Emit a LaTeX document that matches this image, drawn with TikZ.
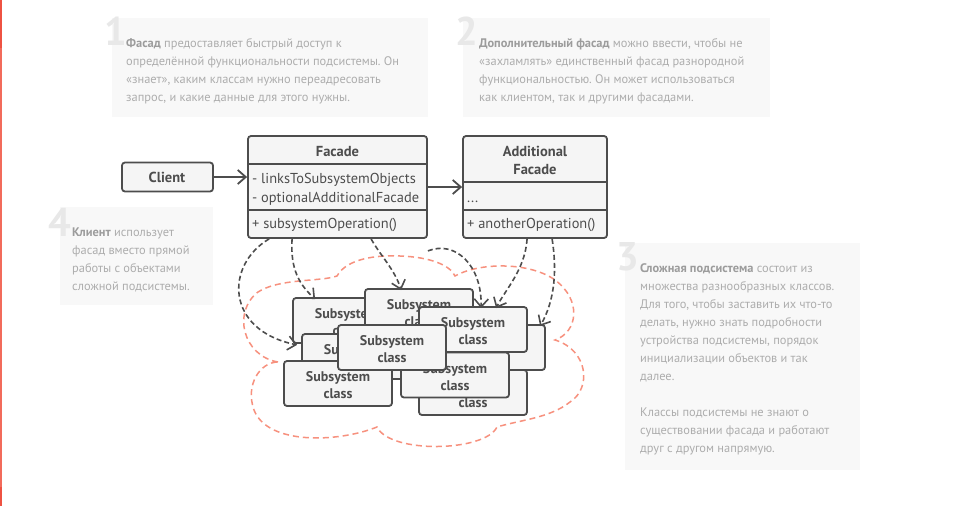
\documentclass[tikz,border=0pt]{standalone}
\usepackage{fontspec}
\setmainfont{PT Sans}
\usetikzlibrary{arrows.meta}
\frenchspacing
\definecolor{ink}{HTML}{4D4D4D}
\definecolor{boxfill}{HTML}{F5F5F5}
\definecolor{notebg}{HTML}{F8F8F8}
\definecolor{notetxt}{HTML}{ADADAD}
\definecolor{notebold}{HTML}{9C9C9C}
\definecolor{digitcol}{HTML}{E8E8E8}
\definecolor{cloudcol}{HTML}{F7917E}
\definecolor{edgecol}{HTML}{F26B5B}
\definecolor{edgedark}{HTML}{EE5242}
\tikzset{
  umlbox/.style={draw=ink, line width=1.8pt, fill=boxfill, rounded corners=3pt, inner sep=0pt},
  subbox/.style={umlbox, minimum width=108pt, minimum height=45pt, align=center, text=ink,
     font=\fontsize{14}{17}\selectfont\bfseries},
  umltext/.style={anchor=base west, inner sep=0pt, text=ink, font=\fontsize{14.4}{17}\selectfont},
  umltitle/.style={anchor=base, inner sep=0pt, text=ink, font=\fontsize{14.5}{18}\selectfont\bfseries},
  notebox/.style={fill=notebg, inner sep=0pt, anchor=north west},
  notetext/.style={anchor=base west, inner sep=0pt, align=left, text=notetxt,
     font=\fontsize{12.4}{18}\selectfont},
  digitnum/.style={anchor=base west, inner sep=0pt, text=digitcol, font=\fontsize{40}{40}\selectfont\bfseries},
  dep/.style={draw=ink, line width=1.6pt, dash pattern=on 5pt off 3pt,
     -{Straight Barb[length=8pt,width=14pt]}},
  assoc/.style={draw=ink, line width=1.8pt, -{Straight Barb[length=8pt,width=14pt]}},
  divider/.style={draw=ink, line width=1.8pt},
}
\newcommand{\nb}[1]{\textcolor{notebold}{\bfseries #1}}
\newcommand{\subtxt}{\rule{0pt}{14pt}Subsystem\\class}
\begin{document}
\begin{tikzpicture}[x=1pt,y=-1pt]
\useasboundingbox (0,0) rectangle (960,506);
\fill[white] (0,0) rectangle (960,506);
% left edge
\fill[edgecol] (0,0) rectangle (2,506);
\fill[edgedark] (0,0) rectangle (2,48);
\fill[edgedark] (0,487) rectangle (2,506);

% notes (base anchor = last line baseline)
\node[notebox, minimum width=316pt, minimum height=99pt] (n1) at (112,18) {};
\node[digitnum] (d1) at (104,45) {1};
\node[notetext] (t1) at (126,101.5) {\nb{Фасад} предоставляет быстрый доступ к\\
определённой функциональности подсистемы. Он\\
«знает», каким классам нужно переадресовать\\
запрос, и какие данные для этого нужны.};

\node[notebox, minimum width=307pt, minimum height=99pt] (n2) at (463,18) {};
\node[digitnum] (d2) at (455,45) {2};
\node[notetext] (t2) at (479,101.5) {\nb{Дополнительный фасад} можно ввести, чтобы не\\
«захламлять» единственный фасад разнородной\\
функциональностью. Он может использоваться\\
как клиентом, так и другими фасадами.};

\node[notebox, minimum width=153pt, minimum height=98pt] (n4) at (60,207) {};
\node[digitnum] (d4) at (48,236) {4};
\node[notetext] (t4) at (72,290.5) {\nb{Клиент} использует\\
фасад вместо прямой\\
работы с объектами\\
сложной подсистемы.};

\node[notebox, minimum width=235pt, minimum height=227pt] (n3) at (625,243) {};
\node[digitnum] (d3) at (616,270) {3};
\node[notetext] (t3) at (640,452.5) {\nb{Сложная подсистема} состоит из\\
множества разнообразных классов.\\
Для того, чтобы заставить их что-то\\
делать, нужно знать подробности\\
устройства подсистемы, порядок\\
инициализации объектов и так\\
далее.\\[18pt]
Классы подсистемы не знают о\\
существовании фасада и работают\\
друг с другом напрямую.};

% cloud
\draw[cloudcol, line width=1.5pt, dash pattern=on 6pt off 4pt]
  (278,362) .. controls (243,356) and (232,312) .. (258,292)
  .. controls (280,278) and (320,282) .. (337,276)
  .. controls (347,258) and (378,255) .. (400,256)
  .. controls (430,257) and (450,265) .. (455,276)
  .. controls (480,262) and (530,262) .. (555,280)
  .. controls (582,300) and (578,332) .. (555,340)
  .. controls (588,350) and (592,388) .. (570,402)
  .. controls (550,418) and (520,420) .. (497,427)
  .. controls (485,452) and (390,454) .. (377,427)
  .. controls (340,442) and (268,446) .. (254,410)
  .. controls (245,385) and (260,362) .. (278,362);

% UML
\node[umlbox, minimum width=91pt, minimum height=29pt] (client) at (167.5,177) {};
\node[umltitle] (clientlbl) at (167,182.5) {Client};

\node[umlbox, minimum width=179pt, minimum height=102pt] (facade) at (337.5,187) {};
\draw[divider] (248,164) -- (427,164);
\draw[divider] (248,210) -- (427,210);
\node[umltitle] (facadelbl) at (337.5,156) {Facade};
\node[umltext] (fa1) at (252,183.5) {- linksToSubsystemObjects};
\node[umltext] (fa2) at (252,202) {- optionalAdditionalFacade};
\node[umltext] (fo1) at (252,228.5) {+ subsystemOperation()};

\node[umlbox, minimum width=144pt, minimum height=102pt] (additional) at (535,187) {};
\draw[divider] (463,182) -- (607,182);
\draw[divider] (463,210) -- (607,210);
\node[umltitle] (addlbl1) at (535,156) {Additional};
\node[umltitle] (addlbl2) at (535,174) {Facade};
\node[umltext] (aa1) at (467,202) {...};
\node[umltext] (ao1) at (467,228.5) {+ anotherOperation()};

\draw[assoc] (client.east) -- (client.east -| facade.west);
\draw[assoc] (facade.east) -- (additional.west);

% subsystem classes (back to front)
\node[subbox] (sA) at (347,320.5) {\subtxt};
\node[subbox] (sB) at (419,311.5) {\subtxt};
\node[subbox] (sE) at (356,356.5) {\subtxt};
\node[subbox] (sG) at (338,383.5) {\subtxt};
\node[subbox] (sD) at (491,347.5) {\subtxt};
\node[subbox] (sC) at (473,329.5) {\subtxt};
\node[subbox] (sI) at (473,392.5) {\subtxt};
\node[subbox] (sH) at (455,375) {\subtxt};
\node[subbox] (sF) at (392,347.5) {\subtxt};

% dependencies
\draw[dep] ([xshift=22pt]facade.south west) .. controls (225,265) and (225,330) .. ([xshift=5pt,yshift=-1pt]sA.south west);
\draw[dep] ([xshift=45pt]facade.south west) .. controls (290,270) and (300,285) .. ([xshift=23pt,yshift=-2pt]sA.north west);
\draw[dep] ([xshift=124pt]facade.south west) .. controls (380,255) and (395,270) .. ([xshift=37pt,yshift=-2pt]sB.north west);
\draw[dep] ([yshift=-12pt]facade.south east) .. controls (455,240) and (482,265) .. ([xshift=63pt,yshift=-2pt]sC.north west);
\draw[dep] ([xshift=65pt]additional.south west) .. controls (525,270) and (505,290) .. ([xshift=78pt,yshift=-2pt]sC.north west);
\draw[dep] ([xshift=90pt]additional.south west) .. controls (557,270) and (555,300) .. ([xshift=104pt,yshift=-2pt]sD.north west);
\end{tikzpicture}
\end{document}
